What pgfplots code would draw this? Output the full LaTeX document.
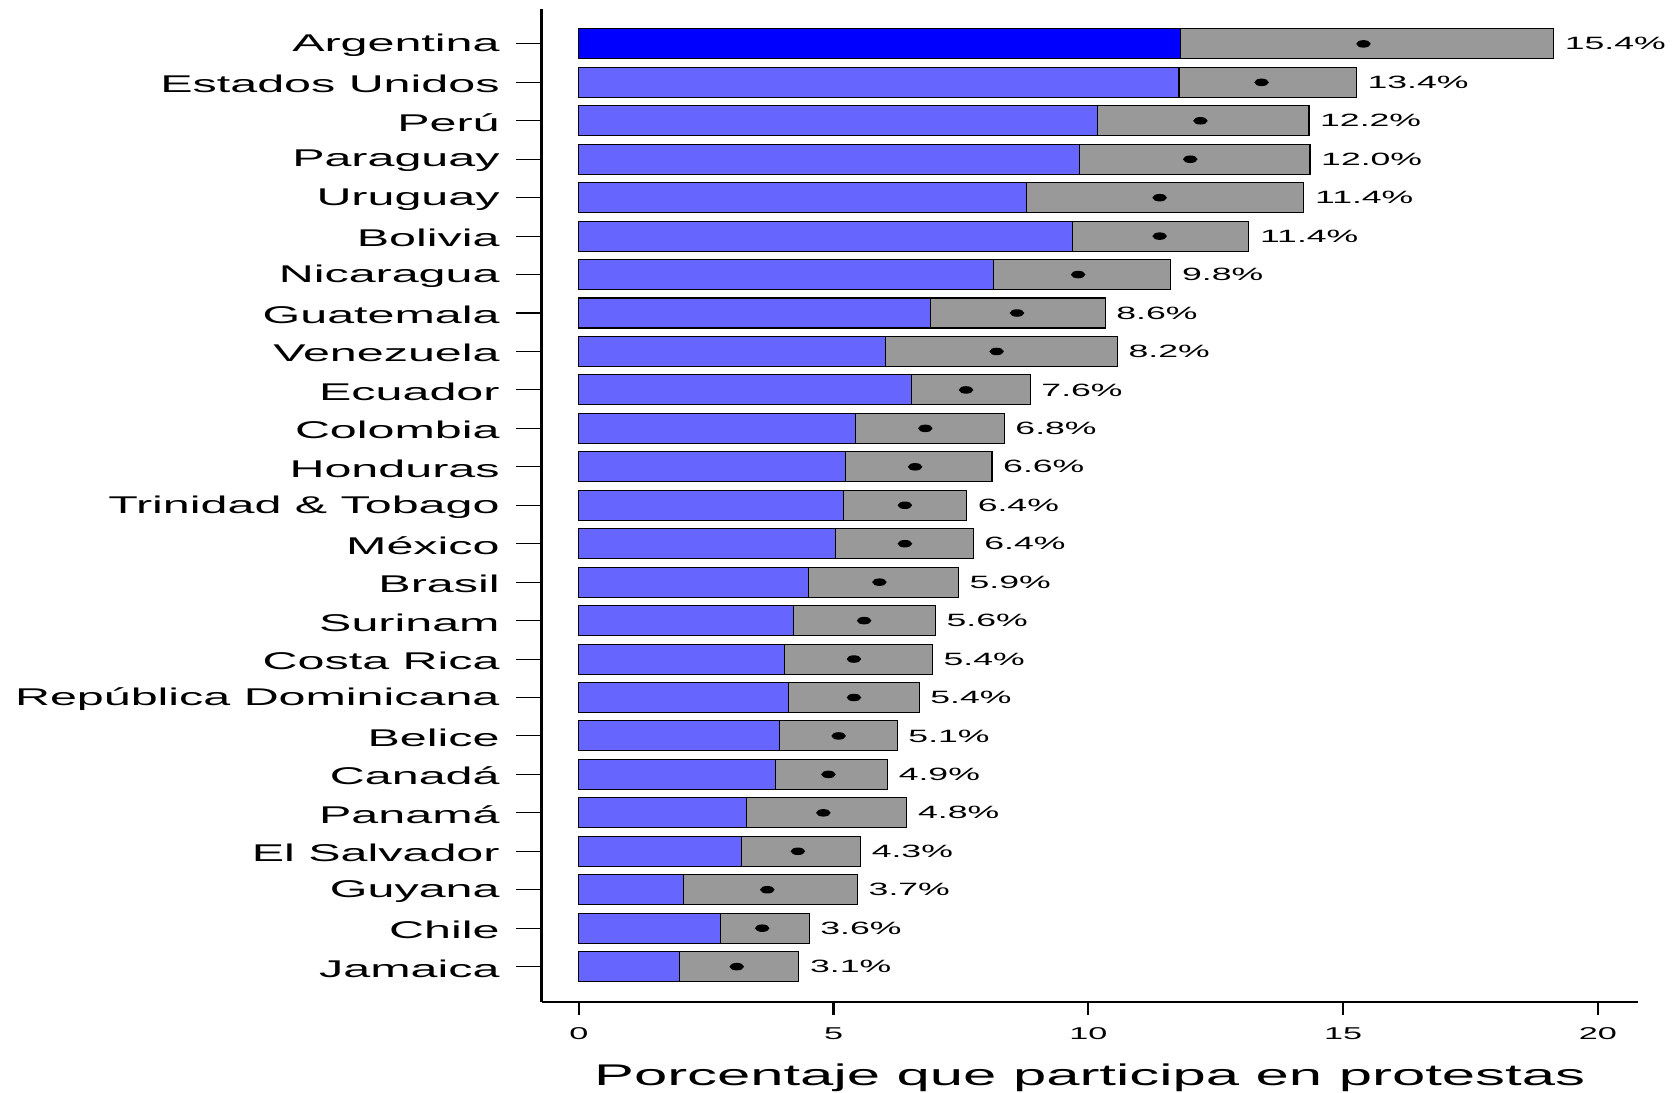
\documentclass[border=0pt]{standalone}
\usepackage{pgfplots}
\pgfplotsset{compat=1.18}
\usepackage{pgfplotstable}
\usepackage{fontspec}
\setmainfont[FakeStretch=2]{Liberation Sans}

\definecolor{barblue}{HTML}{6666FF}
\definecolor{argblue}{HTML}{0000FF}
\definecolor{bargray}{HTML}{999999}

% y = row (Jamaica bottom), lo/hi = interval, est = point estimate
\pgfplotstableread{
y lo hi est
1 1.97 4.32 3.1
2 2.78 4.52 3.6
3 2.05 5.47 3.7
4 3.20 5.53 4.3
5 3.30 6.44 4.8
6 3.86 6.06 4.9
7 3.93 6.25 5.1
8 4.11 6.68 5.4
9 4.03 6.94 5.4
10 4.22 7.00 5.6
11 4.51 7.45 5.9
12 5.04 7.74 6.4
13 5.20 7.61 6.4
14 5.24 8.11 6.6
15 5.43 8.35 6.8
16 6.53 8.86 7.6
17 6.02 10.57 8.2
18 6.90 10.33 8.6
19 8.14 11.62 9.8
20 9.69 13.15 11.4
21 8.79 14.23 11.4
22 9.82 14.35 12.0
23 10.18 14.33 12.2
24 11.78 15.26 13.4
25 11.80 19.13 15.4
}\protesta

\begin{document}
\begin{tikzpicture}
\begin{axis}[
  scale only axis,
  width=307.8pt, height=279pt,
  xmin=-0.73, xmax=20.78,
  ymin=0.08, ymax=25.92,
  axis lines=left,
  axis line style={-, line width=0.65pt},
  tick align=outside,
  major tick length=3.6pt,
  x tick style={black, line width=0.6pt},
  y tick style={black, line width=0.3pt, /pgfplots/major tick length=7.3pt},
  xtick={0,5,10,15,20},
  ytick={1,...,25},
  yticklabels={Jamaica, Chile, Guyana, El Salvador, Panamá, Canadá, Belice,
    República Dominicana, Costa Rica, Surinam, Brasil, México,
    Trinidad \& Tobago, Honduras, Colombia, Ecuador, Venezuela, Guatemala,
    Nicaragua, Bolivia, Uruguay, Paraguay, Perú, Estados Unidos, Argentina},
  /pgf/number format/assume math mode=true,
  yticklabel style={font=\fontsize{6.8}{8}\selectfont, inner sep=0pt, xshift=-8pt, yshift=-0.5pt},
  xticklabel style={font=\fontsize{4.8}{6}\selectfont},
  xlabel={Porcentaje que participa en protestas},
  xlabel style={font=\fontsize{8.4}{10}\selectfont, inner sep=0pt, yshift=-3.2pt},
]

% gray: full interval bar, blue drawn over it up to the lower bound
\addplot[xbar, bar width=0.78, bar shift=0pt, fill=bargray, draw=black, line width=0.3pt,
  point meta=explicit symbolic,
  nodes near coords={\pgfplotspointmeta\%},
  nodes near coords style={anchor=west, inner sep=0pt, xshift=3pt,
    font=\fontsize{5}{6}\selectfont, text=black}]
  table[x=hi, y=y, meta=est] {\protesta};

\addplot[xbar, bar width=0.78, bar shift=0pt, fill=barblue, draw=black, line width=0.3pt]
  table[x=lo, y=y] {\protesta};

\addplot[xbar, bar width=0.78, bar shift=0pt, fill=argblue, draw=black, line width=0.3pt]
  coordinates {(11.80,25)};

\addplot[only marks, mark=*, mark size=0.85pt, mark options={xscale=2.1, fill=black, draw=black}]
  table[x=est, y=y] {\protesta};

\end{axis}
% white margins as in the reference
\path ([xshift=-152.1pt,yshift=-25.5pt]current axis.south west)
  rectangle ([xshift=10.5pt,yshift=2.4pt]current axis.north east);
\end{tikzpicture}
\end{document}
